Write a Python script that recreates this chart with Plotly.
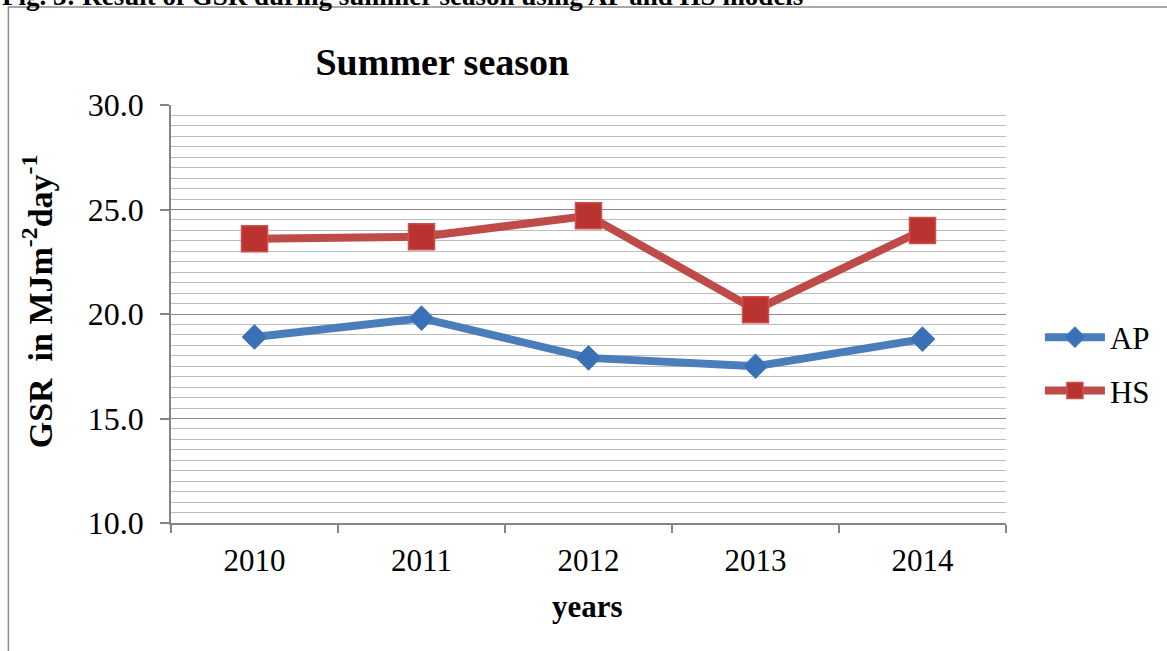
import plotly.graph_objects as go

# Seasonal global solar radiation (MJ m-2 day-1) estimated by two models
years = ["2010", "2011", "2012", "2013", "2014"]
ap_values = [18.9, 19.8, 17.9, 17.5, 18.8]
hs_values = [23.6, 23.7, 24.7, 20.2, 24.0]
y_ticks = [10, 15, 20, 25, 30]

W, H = 1167, 651
L, R, T, B = 171, 1008, 105, 523          # plot-area edges in pixels


def px(x):
    return (x - L) / (R - L)


def py(y):
    return (B - y) / (B - T)


SERIF = "Liberation Serif, Times New Roman, serif"
BLUE = "#4a7ebb"
RED = "#be4b48"

fig = go.Figure()
fig.add_trace(go.Scatter(
    x=years, y=ap_values, name="AP", mode="lines+markers",
    line=dict(color=BLUE, width=8),
    marker=dict(symbol="diamond", size=19, color="#3a70b5",
                line=dict(color="#4a7ebb", width=1)),
    legendgroup="ap",
))
fig.add_trace(go.Scatter(
    x=years, y=hs_values, name="HS", mode="lines+markers",
    line=dict(color=RED, width=8),
    marker=dict(symbol="square", size=26, color="#b93431",
                line=dict(color="#cf4e4a", width=1.5)),
    legendgroup="hs",
))

fig.update_layout(
    width=W, height=H,
    margin=dict(l=L, r=W - R, t=T, b=H - B),
    paper_bgcolor="white", plot_bgcolor="white",
    font=dict(family=SERIF, size=31, color="black"),
    title=dict(text="<b>Summer season</b>", font=dict(family=SERIF, size=38),
               xref="paper", x=px(443), xanchor="center",
               yref="container", y=1 - 62 / H, yanchor="middle"),
    showlegend=True,
    legend=dict(x=px(1042), xanchor="left", y=py(364), yanchor="middle",
                font=dict(family=SERIF, size=31), tracegroupgap=10,
                bgcolor="rgba(0,0,0,0)", itemwidth=60),
)

fig.update_xaxes(
    type="category", tickson="boundaries", ticks="outside", ticklen=8,
    tickcolor="#868686", tickwidth=1.5,
    showline=True, linecolor="#868686", linewidth=1.5,
    showgrid=False, range=[-0.5, 4.5], ticklabelstandoff=9,
    tickfont=dict(family=SERIF, size=31),
)
fig.update_yaxes(
    range=[10, 30], tickvals=y_ticks, ticktext=[f"{v:.1f}" for v in y_ticks],
    ticks="outside", ticklen=9, tickcolor="#868686", tickwidth=1.5,
    showline=True, linecolor="#868686", linewidth=1.5,
    showgrid=True, gridcolor="#8a8a8a", gridwidth=1.2,
    minor=dict(dtick=0.5, showgrid=True, gridcolor="#bdbdbd", gridwidth=1.4),
    zeroline=False, ticklabelstandoff=10,
    tickfont=dict(family=SERIF, size=32),
)

# axis titles
fig.add_annotation(
    text="<b>GSR  in MJm<sup>-2</sup>day<sup>-1</sup></b>", textangle=-90,
    xref="paper", yref="paper", x=px(37), y=py(301),
    xanchor="center", yanchor="middle", showarrow=False,
    font=dict(family=SERIF, size=34),
)
fig.add_annotation(
    text="<b>years</b>", xref="paper", yref="paper", x=px(588), y=py(606),
    xanchor="center", yanchor="middle", showarrow=False,
    font=dict(family=SERIF, size=31),
)

# figure caption running off the top edge
fig.add_annotation(
    text="<b>Fig. 3: Result of GSR during summer season using AP and HS models</b>",
    xref="paper", yref="paper", x=px(0), y=py(13),
    xanchor="left", yanchor="bottom", showarrow=False,
    font=dict(family=SERIF, size=27),
)

# chart frame
fig.add_shape(type="rect", xref="paper", yref="paper",
              x0=px(8), x1=px(1180), y0=py(670), y1=py(7),
              line=dict(color="#8c8c8c", width=1.5), layer="below")

fig.write_html("out.html")
